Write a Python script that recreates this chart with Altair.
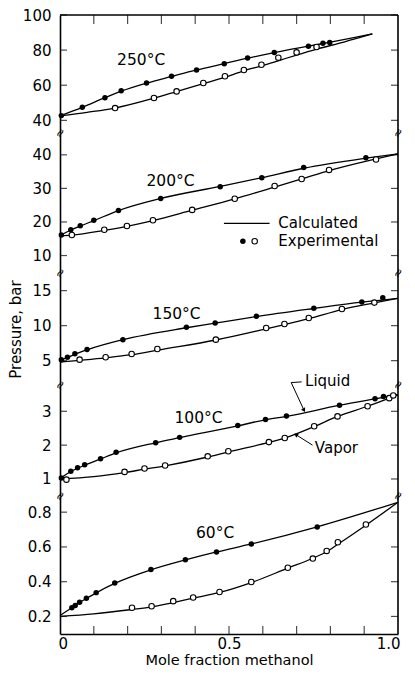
import altair as alt
import pandas as pd

FONT = "DejaVu Sans"

# ---------------- layout / axis values ----------------
X_MINOR = [0.1, 0.2, 0.3, 0.4, 0.5, 0.6, 0.7, 0.8, 0.9]
X_LABELS = [0, 0.5, 1.0]
TEMPS = ["250°C", "200°C", "150°C", "100°C", "60°C"]
Y_DOMAINS = [[32.8, 100], [4.8, 46.5], [1.52, 17.52], [0.497, 3.778], [0.099, 0.893]]
Y_TICKS = [[40, 60, 80, 100], [10, 20, 30, 40], [5, 10, 15], [1, 2, 3], [0.2, 0.4, 0.6, 0.8]]
PANEL_H = [118, 140, 112, 111, 138]
LABEL_X = [0.24, 0.327, 0.345, 0.41, 0.459]
LABEL_P = [74.2, 32.2, 11.71, 2.80, 0.682]

# ---------------- 250 °C ----------------
C250_LIQ_X = [0, 0.066, 0.133, 0.181, 0.256, 0.33, 0.404, 0.486, 0.555, 0.634, 0.735, 0.80, 0.924]
C250_LIQ_P = [42.6, 47.4, 52.9, 56.6, 61.2, 65.0, 68.7, 72.3, 75.4, 78.6, 82.3, 84.5, 89.2]
C250_VAP_X = [0, 0.08, 0.163, 0.278, 0.345, 0.424, 0.488, 0.544, 0.60, 0.65, 0.70, 0.76, 0.84, 0.924]
C250_VAP_P = [42.6, 44.6, 47.0, 52.6, 56.4, 60.9, 64.6, 68.2, 71.2, 74.2, 77.2, 80.6, 84.6, 89.2]
E250_LIQ_X = [0.004, 0.066, 0.133, 0.181, 0.256, 0.33, 0.404, 0.486, 0.555, 0.634, 0.735, 0.778, 0.798]
E250_LIQ_P = [42.7, 47.4, 52.9, 56.9, 61.3, 65.1, 68.7, 72.3, 75.5, 78.7, 82.2, 83.9, 84.4]
E250_VAP_X = [0.163, 0.278, 0.345, 0.424, 0.488, 0.544, 0.596, 0.646, 0.70, 0.759]
E250_VAP_P = [47.0, 52.7, 56.5, 61.3, 65.1, 68.7, 71.7, 75.7, 78.7, 81.8]

# ---------------- 200 °C ----------------
C200_LIQ_X = [0, 0.032, 0.06, 0.10, 0.173, 0.298, 0.474, 0.597, 0.721, 0.905, 1.0]
C200_LIQ_P = [15.9, 17.6, 18.8, 20.4, 23.4, 27.0, 30.6, 33.2, 36.0, 39.0, 40.3]
C200_VAP_X = [0, 0.035, 0.131, 0.198, 0.275, 0.391, 0.517, 0.635, 0.715, 0.796, 0.935, 1.0]
C200_VAP_P = [15.9, 16.1, 17.5, 18.7, 20.4, 23.5, 26.9, 30.4, 32.8, 35.3, 38.8, 40.3]
E200_LIQ_X = [0.004, 0.032, 0.06, 0.10, 0.173, 0.298, 0.474, 0.597, 0.721, 0.905]
E200_LIQ_P = [16.1, 17.7, 18.9, 20.5, 23.4, 27.0, 30.5, 33.2, 36.2, 39.1]
E200_VAP_X = [0.035, 0.131, 0.198, 0.275, 0.391, 0.517, 0.635, 0.715, 0.796, 0.935]
E200_VAP_P = [16.1, 17.7, 18.8, 20.5, 23.6, 26.9, 30.7, 32.8, 35.5, 38.6]

# ---------------- 150 °C ----------------
C150_LIQ_X = [0, 0.004, 0.022, 0.044, 0.08, 0.186, 0.374, 0.459, 0.581, 0.751, 0.893, 1.0]
C150_LIQ_P = [4.8, 5.05, 5.42, 5.9, 6.55, 8.0, 9.7, 10.35, 11.3, 12.45, 13.35, 13.9]
C150_VAP_X = [0, 0.058, 0.134, 0.212, 0.288, 0.461, 0.61, 0.664, 0.736, 0.834, 0.93, 1.0]
C150_VAP_P = [4.8, 5.05, 5.4, 5.85, 6.5, 7.95, 9.55, 10.15, 11.0, 12.3, 13.25, 13.9]
E150_LIQ_X = [0.004, 0.022, 0.044, 0.08, 0.186, 0.374, 0.459, 0.581, 0.751, 0.893, 0.955]
E150_LIQ_P = [5.14, 5.48, 6.0, 6.6, 8.0, 9.76, 10.38, 11.33, 12.48, 13.38, 14.0]
E150_VAP_X = [0.058, 0.135, 0.212, 0.288, 0.461, 0.61, 0.664, 0.736, 0.834, 0.93]
E150_VAP_P = [5.14, 5.48, 5.95, 6.67, 8.0, 9.67, 10.24, 11.1, 12.38, 13.29]

# ---------------- 100 °C ----------------
C100_LIQ_X = [0, 0.032, 0.074, 0.122, 0.166, 0.283, 0.354, 0.526, 0.608, 0.67, 0.827, 0.932, 1.0]
C100_LIQ_P = [1.01, 1.22, 1.41, 1.60, 1.77, 2.07, 2.22, 2.57, 2.75, 2.85, 3.18, 3.37, 3.49]
C100_VAP_X = [0, 0.1, 0.191, 0.25, 0.311, 0.437, 0.498, 0.618, 0.665, 0.752, 0.821, 0.91, 0.974, 1.0]
C100_VAP_P = [1.0, 1.07, 1.19, 1.29, 1.39, 1.65, 1.80, 2.08, 2.21, 2.55, 2.85, 3.15, 3.39, 3.49]
E100_LIQ_X = [0.004, 0.032, 0.052, 0.073, 0.12, 0.166, 0.283, 0.354, 0.526, 0.608, 0.67, 0.827, 0.932, 0.957]
E100_LIQ_P = [1.03, 1.23, 1.33, 1.42, 1.60, 1.79, 2.07, 2.23, 2.58, 2.76, 2.86, 3.18, 3.37, 3.44]
E100_VAP_X = [0.019, 0.191, 0.25, 0.311, 0.437, 0.498, 0.618, 0.665, 0.752, 0.821, 0.91, 0.974, 0.986]
E100_VAP_P = [0.98, 1.21, 1.31, 1.40, 1.67, 1.82, 2.09, 2.21, 2.56, 2.85, 3.15, 3.39, 3.47]

# ---------------- 60 °C ----------------
C60_LIQ_X = [0, 0.035, 0.058, 0.078, 0.107, 0.162, 0.269, 0.371, 0.463, 0.566, 0.761, 1.0]
C60_LIQ_P = [0.205, 0.25, 0.28, 0.303, 0.336, 0.39, 0.468, 0.525, 0.571, 0.617, 0.716, 0.857]
C60_VAP_X = [0, 0.1, 0.213, 0.271, 0.335, 0.394, 0.472, 0.566, 0.674, 0.748, 0.789, 0.822, 0.905, 1.0]
C60_VAP_P = [0.2, 0.215, 0.24, 0.255, 0.28, 0.305, 0.338, 0.395, 0.478, 0.535, 0.572, 0.615, 0.725, 0.857]
E60_LIQ_X = [0.035, 0.045, 0.058, 0.078, 0.107, 0.162, 0.269, 0.371, 0.463, 0.566, 0.761]
E60_LIQ_P = [0.25, 0.263, 0.282, 0.305, 0.337, 0.392, 0.47, 0.526, 0.571, 0.617, 0.715]
E60_VAP_X = [0.213, 0.271, 0.335, 0.394, 0.472, 0.566, 0.674, 0.748, 0.789, 0.822, 0.905]
E60_VAP_P = [0.25, 0.259, 0.288, 0.309, 0.341, 0.398, 0.48, 0.533, 0.577, 0.627, 0.729]

CALC = [
    (C250_LIQ_X, C250_LIQ_P, C250_VAP_X, C250_VAP_P),
    (C200_LIQ_X, C200_LIQ_P, C200_VAP_X, C200_VAP_P),
    (C150_LIQ_X, C150_LIQ_P, C150_VAP_X, C150_VAP_P),
    (C100_LIQ_X, C100_LIQ_P, C100_VAP_X, C100_VAP_P),
    (C60_LIQ_X, C60_LIQ_P, C60_VAP_X, C60_VAP_P),
]
EXPT = [
    (E250_LIQ_X, E250_LIQ_P, E250_VAP_X, E250_VAP_P),
    (E200_LIQ_X, E200_LIQ_P, E200_VAP_X, E200_VAP_P),
    (E150_LIQ_X, E150_LIQ_P, E150_VAP_X, E150_VAP_P),
    (E100_LIQ_X, E100_LIQ_P, E100_VAP_X, E100_VAP_P),
    (E60_LIQ_X, E60_LIQ_P, E60_VAP_X, E60_VAP_P),
]

# legend (200 °C panel, data coordinates)
LEG_LINE_X = [0.485, 0.62]
LEG_LINE_P = [19.6, 19.6]
LEG_TEXT_X = [0.646, 0.646]
LEG_TEXT_P = [19.6, 14.25]
LEG_TEXT = ["Calculated", "Experimental"]
LEG_DOT_X = [0.541, 0.576]
LEG_DOT_P = [14.25, 14.25]

# Liquid / Vapor call-outs (100 °C panel, data coordinates)
LIQ_LEAD_X = [0.715, 0.684, 0.722]
LIQ_LEAD_P = [3.87, 3.85, 3.03]
VAP_LEAD_X = [0.747, 0.698]
VAP_LEAD_P = [2.0, 2.31]
CALLOUT_X = [0.725, 0.754]
CALLOUT_P = [3.90, 1.916]
CALLOUT_T = ["Liquid", "Vapor"]

W = 338


def panel(i):
    xs = alt.Scale(domain=[0, 1], nice=False, zero=False)
    ys = alt.Scale(domain=Y_DOMAINS[i], nice=False, zero=False)
    last = i == 4
    lx, lp, vx, vp = CALC[i]
    ex_l, ep_l, ex_v, ep_v = EXPT[i]
    calc = pd.DataFrame({
        "x": lx + vx,
        "p": lp + vp,
        "phase": ["liquid"] * len(lx) + ["vapor"] * len(vx),
    })

    if last:
        xaxis = alt.Axis(values=X_LABELS, ticks=False, grid=False, domain=True,
                         domainColor="black", domainWidth=1.6, labelFlush=True, labelFlushOffset=2,
                         labelExpr="datum.value == 0 ? '0' : format(datum.value, '.1f')",
                         labelPadding=2, titlePadding=2, titleFontSize=14.5)
        xt = "Mole fraction methanol"
    else:
        xaxis = None
        xt = None
    yargs = dict(values=Y_TICKS[i], ticks=False, grid=False, domain=True,
                 domainColor="black", domainWidth=1.6, labelPadding=9,
                 format=".1f" if last else "d")
    if i == 2:
        yaxis = alt.Axis(titlePadding=8, **yargs)
        yt = "Pressure, bar"
    else:
        yaxis = alt.Axis(**yargs)
        yt = None

    # every layer carries the same axis definition so the merged axis stays enabled
    def X(f="x"):
        return alt.X(f + ":Q", scale=xs, axis=xaxis, title=xt)

    def Y(f="p"):
        return alt.Y(f + ":Q", scale=ys, axis=yaxis, title=yt)

    lines = alt.Chart(calc).mark_line(color="black", strokeWidth=1.3, interpolate="monotone").encode(
        x=X(), y=Y(), detail="phase:N",
    )
    filled = alt.Chart(pd.DataFrame({"x": ex_l, "p": ep_l})).mark_point(
        shape="circle", filled=True, color="black", size=30, opacity=1
    ).encode(x=X(), y=Y())
    hollow = alt.Chart(pd.DataFrame({"x": ex_v, "p": ep_v})).mark_point(
        shape="circle", filled=True, fill="white", stroke="black", strokeWidth=1.1, size=30, opacity=1
    ).encode(x=X(), y=Y())

    tlabel = alt.Chart(pd.DataFrame({"x": [LABEL_X[i]], "p": [LABEL_P[i]], "t": [TEMPS[i]]})).mark_text(
        font=FONT, fontSize=15.5, color="black"
    ).encode(x=X(), y=Y(), text="t:N")

    right = alt.Chart(pd.DataFrame({"x": [1.0]})).mark_rule(color="black", strokeWidth=1.6).encode(x=X())

    nt = len(Y_TICKS[i])
    lt = alt.Chart(pd.DataFrame({"x": [0.0] * nt, "p": Y_TICKS[i]})).mark_tick(
        orient="horizontal", size=7, thickness=1.2, color="black", xOffset=3.5
    ).encode(x=X(), y=Y())
    rt = alt.Chart(pd.DataFrame({"x": [1.0] * nt, "p": Y_TICKS[i]})).mark_tick(
        orient="horizontal", size=7, thickness=1.2, color="black", xOffset=-3.5
    ).encode(x=X(), y=Y())

    layers = [lines, right, lt, rt, filled, hollow, tlabel]

    if i > 0:
        top = Y_DOMAINS[i][1]
        br = alt.Chart(pd.DataFrame({"x": [0.0, 1.0], "p": [top, top]})).mark_text(
            text="≈", font=FONT, fontSize=12, color="black", angle=300
        ).encode(x=X(), y=Y())
        layers.append(br)

    if i == 0:
        top = Y_DOMAINS[0][1]
        topline = alt.Chart(pd.DataFrame({"p": [top]})).mark_rule(color="black", strokeWidth=1.6).encode(y=Y())
        tt = alt.Chart(pd.DataFrame({"x": X_MINOR, "p": [top] * len(X_MINOR)})).mark_tick(
            orient="vertical", size=9, thickness=1.2, color="black", yOffset=4.5
        ).encode(x=X(), y=Y())
        layers += [topline, tt]

    if last:
        bot = Y_DOMAINS[4][0]
        bt = alt.Chart(pd.DataFrame({"x": X_MINOR, "p": [bot] * len(X_MINOR)})).mark_tick(
            orient="vertical", size=8, thickness=1.2, color="black", yOffset=-4
        ).encode(x=X(), y=Y())
        layers.append(bt)

    if i == 1:
        leg_line = alt.Chart(pd.DataFrame({"x": LEG_LINE_X, "p": LEG_LINE_P})).mark_line(
            color="black", strokeWidth=1.3
        ).encode(x=X(), y=Y())
        leg_text = alt.Chart(pd.DataFrame({"x": LEG_TEXT_X, "p": LEG_TEXT_P, "t": LEG_TEXT})).mark_text(
            font=FONT, fontSize=15, color="black", align="left", baseline="middle"
        ).encode(x=X(), y=Y(), text="t:N")
        leg_f = alt.Chart(pd.DataFrame({"x": LEG_DOT_X[:1], "p": LEG_DOT_P[:1]})).mark_point(
            shape="circle", filled=True, color="black", size=30, opacity=1
        ).encode(x=X(), y=Y())
        leg_o = alt.Chart(pd.DataFrame({"x": LEG_DOT_X[1:], "p": LEG_DOT_P[1:]})).mark_point(
            shape="circle", filled=True, fill="white", stroke="black", strokeWidth=1.1, size=30, opacity=1
        ).encode(x=X(), y=Y())
        layers += [leg_line, leg_text, leg_f, leg_o]

    if i == 3:
        lq = alt.Chart(pd.DataFrame({"x": LIQ_LEAD_X, "p": LIQ_LEAD_P, "o": [0, 1, 2]})).mark_line(
            color="black", strokeWidth=1
        ).encode(x=X(), y=Y(), order="o:Q")
        vp_ = alt.Chart(pd.DataFrame({"x": VAP_LEAD_X, "p": VAP_LEAD_P, "o": [0, 1]})).mark_line(
            color="black", strokeWidth=1
        ).encode(x=X(), y=Y(), order="o:Q")
        la = alt.Chart(pd.DataFrame({"x": LIQ_LEAD_X[-1:], "p": LIQ_LEAD_P[-1:]})).mark_point(
            shape="triangle-up", filled=True, color="black", size=22, angle=150, opacity=1
        ).encode(x=X(), y=Y())
        va = alt.Chart(pd.DataFrame({"x": VAP_LEAD_X[-1:], "p": VAP_LEAD_P[-1:]})).mark_point(
            shape="triangle-up", filled=True, color="black", size=22, angle=304, opacity=1
        ).encode(x=X(), y=Y())
        ct = alt.Chart(pd.DataFrame({"x": CALLOUT_X, "p": CALLOUT_P, "t": CALLOUT_T})).mark_text(
            font=FONT, fontSize=15, color="black", align="left", baseline="middle"
        ).encode(x=X(), y=Y(), text="t:N")
        layers += [lq, vp_, la, va, ct]

    return alt.layer(*layers).properties(width=W, height=PANEL_H[i])


chart = alt.vconcat(*[panel(i) for i in range(5)], spacing=0, bounds="flush").properties(
    padding={"left": 0, "top": 0, "right": 0, "bottom": 0}
).configure_view(stroke=None).configure_axis(
    labelFont=FONT, labelFontSize=15, labelColor="black",
    titleFont=FONT, titleFontSize=15, titleColor="black", titleFontWeight="normal",
)

chart.save("out.html", embed_options={"renderer": "svg", "actions": False})
